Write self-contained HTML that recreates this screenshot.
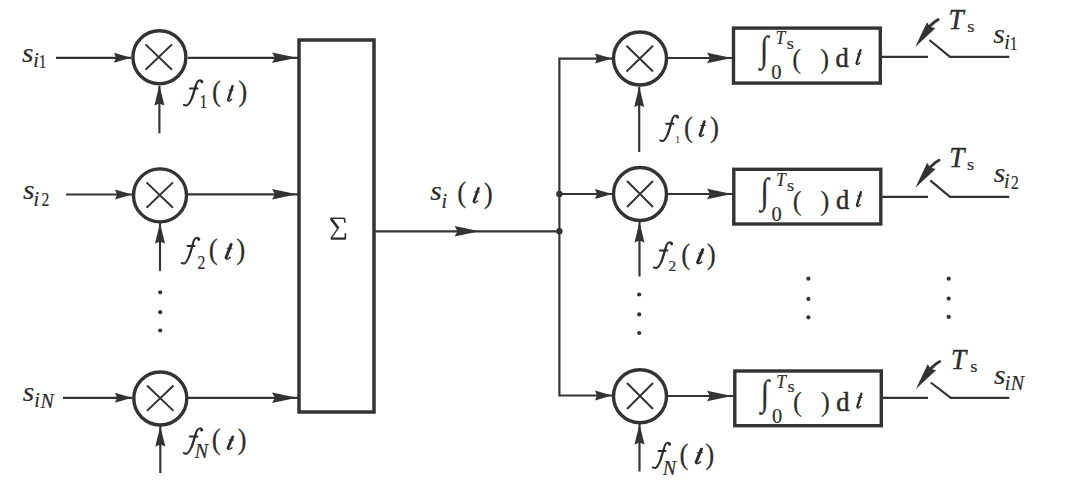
<!DOCTYPE html>
<html><head><meta charset="utf-8">
<style>
html,body{margin:0;padding:0;background:#fff;}
svg{display:block;}
text{font-family:"Liberation Serif",serif;fill:#2c2c2c;stroke:#2c2c2c;stroke-width:0.45px;}
.ns{stroke-width:0.15px;}
.sm{stroke-width:0.2px;}
.ls{stroke-width:0.15px;}
.bd{stroke-width:0.5px;}
.it{font-style:italic;}
</style></head>
<body>
<svg width="1069" height="486" viewBox="0 0 1069 486">
<g stroke="#333" fill="none">
  <g stroke-width="3.4">
    <circle cx="159.4" cy="57.3" r="26.5"/>
    <circle cx="160" cy="195.4" r="26.5"/>
    <circle cx="160.3" cy="398.5" r="26.5"/>
  </g>
  <g stroke-width="2.15">
    <path d="M56,57.8H131 M188,57.8H298"/>
    <path d="M66,194.5H132 M188,194.3H298"/>
    <path d="M63,397.8H132 M188,397.8H298"/>
    <path d="M159.4,133.3V86 M160,271V223 M160.3,473V426"/>
  </g>
  <g stroke-width="2">
    <path d="M145.5,44.4L172,69.8 M172,44.4L145.5,69.8"/>
    <path d="M146.5,182.4L173,207.8 M173,182.4L146.5,207.8"/>
    <path d="M147,385.5L173.5,410.9 M173.5,385.5L147,410.9"/>
  </g>
  <rect x="299" y="40" width="75" height="372" stroke-width="3.5"/>
  <path d="M374,231.3H559.4" stroke-width="2.15"/>
  <path d="M559.4,57.6V396.5 M559.4,58.6H612 M559.4,194H612 M559.4,395.5H612" stroke-width="2.15"/>
  <g stroke-width="3.4">
    <circle cx="640" cy="58.5" r="26.5"/>
    <circle cx="640" cy="194" r="26.5"/>
    <circle cx="640" cy="396.3" r="26.5"/>
  </g>
  <g stroke-width="2">
    <path d="M626.5,45.8L653,71.5 M653,45.8L626.5,71.5"/>
    <path d="M627,181L653,207 M653,181L627,207"/>
    <path d="M627,383L653,409 M653,383L627,409"/>
  </g>
  <g stroke-width="2.15">
    <path d="M668,58H733 M668,194H733 M668,396H733"/>
    <path d="M639.2,152V87 M639.5,276.5V222 M639.5,471.4V424"/>
  </g>
  <g stroke-width="3.4">
    <rect x="733.5" y="28.1" width="146.8" height="55"/>
    <rect x="733.8" y="169.3" width="147" height="54.7"/>
    <rect x="734.8" y="371" width="146.5" height="54.7"/>
  </g>
  <g stroke-width="2.15">
    <path d="M882,56.8H928 M929.4,40L950,56.8H1009.3"/>
    <path d="M882,196.8H928 M930.2,180.3L950,196.8H1009.3"/>
    <path d="M882,397.9H928 M930.7,382.5L950.8,397.9H1009.3"/>
  </g>
</g>
<g fill="#333">
  <path d="M0,0 L-17,-5 L-15,0 L-17,5 Z" transform="translate(131,57.8)"/>
  <path d="M0,0 L-17,-5 L-15,0 L-17,5 Z" transform="translate(132,194.5)"/>
  <path d="M0,0 L-17,-5 L-15,0 L-17,5 Z" transform="translate(132,397.8)"/>
  <path d="M0,0 L-25,-5.2 L-22,0 L-25,5.2 Z" transform="translate(297,57.8)"/>
  <path d="M0,0 L-25,-5.2 L-22,0 L-25,5.2 Z" transform="translate(297,194.3)"/>
  <path d="M0,0 L-25,-5.2 L-22,0 L-25,5.2 Z" transform="translate(297,397.8)"/>
  <path d="M0,0 L-20.5,-5 L-18.5,0 L-20.5,5 Z" transform="translate(159.4,85) rotate(-90)"/>
  <path d="M0,0 L-20.5,-5 L-18.5,0 L-20.5,5 Z" transform="translate(160,223) rotate(-90)"/>
  <path d="M0,0 L-20.5,-5 L-18.5,0 L-20.5,5 Z" transform="translate(160.3,426) rotate(-90)"/>
  <path d="M0,0 L-25,-5.2 L-22,0 L-25,5.2 Z" transform="translate(479.6,231.3)"/>
  <path d="M0,0 L-17,-5 L-15,0 L-17,5 Z" transform="translate(612,58.6)"/>
  <path d="M0,0 L-17,-5 L-15,0 L-17,5 Z" transform="translate(612,194)"/>
  <path d="M0,0 L-17,-5 L-15,0 L-17,5 Z" transform="translate(612,395.5)"/>
  <path d="M0,0 L-25,-5.2 L-22,0 L-25,5.2 Z" transform="translate(732,58)"/>
  <path d="M0,0 L-25,-5.2 L-22,0 L-25,5.2 Z" transform="translate(732,194)"/>
  <path d="M0,0 L-25,-5.2 L-22,0 L-25,5.2 Z" transform="translate(732,396)"/>
  <path d="M0,0 L-20.5,-5 L-18.5,0 L-20.5,5 Z" transform="translate(639.2,86.5) rotate(-90)"/>
  <path d="M0,0 L-20.5,-5 L-18.5,0 L-20.5,5 Z" transform="translate(639.5,222) rotate(-90)"/>
  <path d="M0,0 L-20.5,-5 L-18.5,0 L-20.5,5 Z" transform="translate(639.5,424) rotate(-90)"/>
  <path d="M0,0 L-27,-5.2 L-25,0 L-27,5.2 Z" transform="translate(915.2,47) rotate(126.3)"/>
  <path d="M0,0 L-27,-5.2 L-25,0 L-27,5.2 Z" transform="translate(915.4,187.7) rotate(126.3)"/>
  <path d="M0,0 L-27,-5.2 L-25,0 L-27,5.2 Z" transform="translate(915.9,389) rotate(126.3)"/>
  <circle cx="559.4" cy="194" r="3.2"/>
  <circle cx="559.4" cy="231.3" r="3.2"/>
  <circle cx="160.2" cy="292.3" r="2.1"/><circle cx="160.2" cy="312.2" r="2.1"/><circle cx="160.2" cy="330.5" r="2.1"/>
  <circle cx="639.2" cy="294.5" r="2.1"/><circle cx="639.2" cy="314.4" r="2.1"/><circle cx="639.2" cy="333" r="2.1"/>
  <circle cx="808.4" cy="278.7" r="2.1"/><circle cx="808.4" cy="298.9" r="2.1"/><circle cx="808.4" cy="317.3" r="2.1"/>
  <circle cx="948.7" cy="278.7" r="2.1"/><circle cx="948.7" cy="298.6" r="2.1"/><circle cx="948.7" cy="316.9" r="2.1"/>
</g>
<g stroke="#333" stroke-width="2.8" fill="none" stroke-linecap="round">
  <path d="M938.3,19.6 Q934.5,21.5 929.5,26.5"/>
  <path d="M939.1,160.2 Q935.3,162.1 930.3,167.2"/>
  <path d="M939.8,361.6 Q936,363.5 931,368.6"/>
</g>

<g transform="translate(183.00,79.30) scale(1.000,1.000)"><path d="M19.3,2.6 C18.8,0.2 15.6,0.2 14,3.2 C12.1,7 10.2,15.6 7.8,21.2 C5.6,26.2 3.2,27 0.9,25.6 M7,9.1 H14.6" fill="none" stroke="#2c2c2c" stroke-width="2.0" stroke-linecap="round"/><path d="M13.4,5.6 C12,10 10.6,15.6 8.9,19.6" fill="none" stroke="#2c2c2c" stroke-width="1.6" stroke-linecap="round"/><circle cx="18.8" cy="2.4" r="1.5" fill="#2c2c2c"/></g>
<g transform="translate(226.50,85.30) scale(1.000,1.000)" fill="none" stroke="#2c2c2c" stroke-linecap="round"><path d="M6.0,0.8 L1.7,14.4" stroke-width="2.5"/><path d="M1.7,14.4 Q1.3,16.6 3.4,15.5 L5.2,14.0" stroke-width="1.4"/><path d="M2.4,4.7 H6.8" stroke-width="1.0"/></g>
<g transform="translate(180.80,236.80) scale(0.950,1.022)"><path d="M19.3,2.6 C18.8,0.2 15.6,0.2 14,3.2 C12.1,7 10.2,15.6 7.8,21.2 C5.6,26.2 3.2,27 0.9,25.6 M7,9.1 H14.6" fill="none" stroke="#2c2c2c" stroke-width="2.0" stroke-linecap="round"/><path d="M13.4,5.6 C12,10 10.6,15.6 8.9,19.6" fill="none" stroke="#2c2c2c" stroke-width="1.6" stroke-linecap="round"/><circle cx="18.8" cy="2.4" r="1.5" fill="#2c2c2c"/></g>
<g transform="translate(224.00,243.50) scale(1.185,0.988)" fill="none" stroke="#2c2c2c" stroke-linecap="round"><path d="M6.0,0.8 L1.7,14.4" stroke-width="2.5"/><path d="M1.7,14.4 Q1.3,16.6 3.4,15.5 L5.2,14.0" stroke-width="1.4"/><path d="M2.4,4.7 H6.8" stroke-width="1.0"/></g>
<g transform="translate(183.00,427.50) scale(0.990,1.000)"><path d="M19.3,2.6 C18.8,0.2 15.6,0.2 14,3.2 C12.1,7 10.2,15.6 7.8,21.2 C5.6,26.2 3.2,27 0.9,25.6 M7,9.1 H14.6" fill="none" stroke="#2c2c2c" stroke-width="2.0" stroke-linecap="round"/><path d="M13.4,5.6 C12,10 10.6,15.6 8.9,19.6" fill="none" stroke="#2c2c2c" stroke-width="1.6" stroke-linecap="round"/><circle cx="18.8" cy="2.4" r="1.5" fill="#2c2c2c"/></g>
<g transform="translate(226.00,436.00) scale(1.138,0.844)" fill="none" stroke="#2c2c2c" stroke-linecap="round"><path d="M6.0,0.8 L1.7,14.4" stroke-width="2.5"/><path d="M1.7,14.4 Q1.3,16.6 3.4,15.5 L5.2,14.0" stroke-width="1.4"/><path d="M2.4,4.7 H6.8" stroke-width="1.0"/></g>
<g stroke="#2c2c2c" fill="none" stroke-linecap="butt"><path d="M330.4,218.3 H344.6" stroke-width="1.5"/><path d="M344.4,218.2 L345,222.6" stroke-width="1.7"/><path d="M330.9,218.5 L338.3,228.2" stroke-width="2.7"/><path d="M338.5,227.6 L331.2,238.2" stroke-width="1.4"/><path d="M330.8,238.6 H345.8" stroke-width="2.3"/><path d="M345.2,239 L345.5,233.2" stroke-width="1.7"/></g>
<g transform="translate(472.00,187.50) scale(1.077,0.970)" fill="none" stroke="#2c2c2c" stroke-linecap="round"><path d="M6.0,0.8 L1.7,14.4" stroke-width="2.5"/><path d="M1.7,14.4 Q1.3,16.6 3.4,15.5 L5.2,14.0" stroke-width="1.4"/><path d="M2.4,4.7 H6.8" stroke-width="1.0"/></g>
<g transform="translate(659.30,114.70) scale(0.970,1.004)"><path d="M19.3,2.6 C18.8,0.2 15.6,0.2 14,3.2 C12.1,7 10.2,15.6 7.8,21.2 C5.6,26.2 3.2,27 0.9,25.6 M7,9.1 H14.6" fill="none" stroke="#2c2c2c" stroke-width="2.0" stroke-linecap="round"/><path d="M13.4,5.6 C12,10 10.6,15.6 8.9,19.6" fill="none" stroke="#2c2c2c" stroke-width="1.6" stroke-linecap="round"/><circle cx="18.8" cy="2.4" r="1.5" fill="#2c2c2c"/></g>
<g transform="translate(698.10,120.70) scale(1.062,1.000)" fill="none" stroke="#2c2c2c" stroke-linecap="round"><path d="M6.0,0.8 L1.7,14.4" stroke-width="2.5"/><path d="M1.7,14.4 Q1.3,16.6 3.4,15.5 L5.2,14.0" stroke-width="1.4"/><path d="M2.4,4.7 H6.8" stroke-width="1.0"/></g>
<g transform="translate(653.00,241.30) scale(0.990,1.022)"><path d="M19.3,2.6 C18.8,0.2 15.6,0.2 14,3.2 C12.1,7 10.2,15.6 7.8,21.2 C5.6,26.2 3.2,27 0.9,25.6 M7,9.1 H14.6" fill="none" stroke="#2c2c2c" stroke-width="2.0" stroke-linecap="round"/><path d="M13.4,5.6 C12,10 10.6,15.6 8.9,19.6" fill="none" stroke="#2c2c2c" stroke-width="1.6" stroke-linecap="round"/><circle cx="18.8" cy="2.4" r="1.5" fill="#2c2c2c"/></g>
<g transform="translate(695.50,248.70) scale(1.215,0.946)" fill="none" stroke="#2c2c2c" stroke-linecap="round"><path d="M6.0,0.8 L1.7,14.4" stroke-width="2.5"/><path d="M1.7,14.4 Q1.3,16.6 3.4,15.5 L5.2,14.0" stroke-width="1.4"/><path d="M2.4,4.7 H6.8" stroke-width="1.0"/></g>
<g transform="translate(651.90,441.90) scale(0.940,0.996)"><path d="M19.3,2.6 C18.8,0.2 15.6,0.2 14,3.2 C12.1,7 10.2,15.6 7.8,21.2 C5.6,26.2 3.2,27 0.9,25.6 M7,9.1 H14.6" fill="none" stroke="#2c2c2c" stroke-width="2.0" stroke-linecap="round"/><path d="M13.4,5.6 C12,10 10.6,15.6 8.9,19.6" fill="none" stroke="#2c2c2c" stroke-width="1.6" stroke-linecap="round"/><circle cx="18.8" cy="2.4" r="1.5" fill="#2c2c2c"/></g>
<g transform="translate(694.00,448.20) scale(1.246,0.976)" fill="none" stroke="#2c2c2c" stroke-linecap="round"><path d="M6.0,0.8 L1.7,14.4" stroke-width="2.5"/><path d="M1.7,14.4 Q1.3,16.6 3.4,15.5 L5.2,14.0" stroke-width="1.4"/><path d="M2.4,4.7 H6.8" stroke-width="1.0"/></g>
<g transform="translate(855.00,49.40) scale(0.923,0.958)" fill="none" stroke="#2c2c2c" stroke-linecap="round"><path d="M6.0,0.8 L1.7,14.4" stroke-width="2.5"/><path d="M1.7,14.4 Q1.3,16.6 3.4,15.5 L5.2,14.0" stroke-width="1.4"/><path d="M2.4,4.7 H6.8" stroke-width="1.0"/></g>
<g transform="translate(855.40,191.40) scale(0.923,0.958)" fill="none" stroke="#2c2c2c" stroke-linecap="round"><path d="M6.0,0.8 L1.7,14.4" stroke-width="2.5"/><path d="M1.7,14.4 Q1.3,16.6 3.4,15.5 L5.2,14.0" stroke-width="1.4"/><path d="M2.4,4.7 H6.8" stroke-width="1.0"/></g>
<g transform="translate(855.80,392.90) scale(0.923,0.958)" fill="none" stroke="#2c2c2c" stroke-linecap="round"><path d="M6.0,0.8 L1.7,14.4" stroke-width="2.5"/><path d="M1.7,14.4 Q1.3,16.6 3.4,15.5 L5.2,14.0" stroke-width="1.4"/><path d="M2.4,4.7 H6.8" stroke-width="1.0"/></g>
<text class="it ls" font-size="26.50" transform="translate(22.09,61.64) scale(1.120,1)">s</text>
<text class="it sm" font-size="20.00" transform="translate(33.37,67.30) scale(1.000,1)">i</text>
<text class="rm sm" font-size="19.50" transform="translate(38.83,68.10) scale(0.800,1)">1</text>
<text class="it ls" font-size="26.50" transform="translate(23.04,199.04) scale(1.120,1)">s</text>
<text class="it sm" font-size="20.00" transform="translate(33.52,205.80) scale(1.000,1)">i</text>
<text class="rm sm" font-size="19.50" transform="translate(41.39,205.80) scale(0.800,1)">2</text>
<text class="it ls" font-size="26.50" transform="translate(22.64,401.14) scale(1.120,1)">s</text>
<text class="it sm" font-size="20.00" transform="translate(34.22,407.10) scale(1.000,1)">i</text>
<text class="it sm" font-size="20.00" transform="translate(40.44,407.90) scale(1.000,1)">N</text>
<text class="rm sm" font-size="19.50" transform="translate(199.43,108.00) scale(0.800,1)">1</text>
<text class="rm ns" font-size="28.50" transform="translate(212.08,101.03) scale(0.950,1)">(</text>
<text class="rm ns" font-size="28.50" transform="translate(238.35,101.03) scale(0.950,1)">)</text>
<text class="rm sm" font-size="19.50" transform="translate(197.59,268.80) scale(0.800,1)">2</text>
<text class="rm ns" font-size="28.50" transform="translate(208.78,258.63) scale(0.950,1)">(</text>
<text class="rm ns" font-size="28.50" transform="translate(236.15,258.63) scale(0.950,1)">)</text>
<text class="it sm" font-size="20.00" transform="translate(194.64,458.20) scale(1.000,1)">N</text>
<text class="rm ns" font-size="28.50" transform="translate(211.78,449.33) scale(0.950,1)">(</text>
<text class="rm ns" font-size="28.50" transform="translate(237.60,449.33) scale(0.950,1)">)</text>
<text class="it ls" font-size="26.50" transform="translate(430.19,200.24) scale(1.120,1)">s</text>
<text class="it sm" font-size="20.00" transform="translate(441.47,207.50) scale(1.000,1)">i</text>
<text class="rm ns" font-size="28.50" transform="translate(457.18,202.33) scale(0.950,1)">(</text>
<text class="rm ns" font-size="28.50" transform="translate(483.65,202.53) scale(0.950,1)">)</text>
<text class="rm sm" font-size="11.00" transform="translate(675.72,143.00) scale(0.700,1)">1</text>
<text class="rm ns" font-size="28.50" transform="translate(683.98,136.53) scale(0.950,1)">(</text>
<text class="rm ns" font-size="28.50" transform="translate(709.95,136.53) scale(0.950,1)">)</text>
<text class="rm sm" font-size="15.50" transform="translate(668.46,270.90) scale(1.000,1)">2</text>
<text class="rm ns" font-size="28.50" transform="translate(681.18,263.73) scale(0.950,1)">(</text>
<text class="rm ns" font-size="28.50" transform="translate(706.70,263.73) scale(0.950,1)">)</text>
<text class="it sm" font-size="20.00" transform="translate(662.74,475.40) scale(1.000,1)">N</text>
<text class="rm ns" font-size="28.50" transform="translate(679.58,463.73) scale(0.950,1)">(</text>
<text class="rm ns" font-size="28.50" transform="translate(705.25,463.73) scale(0.950,1)">)</text>
<text class="rm ns" font-size="36.00" transform="translate(760.03,61.35) scale(0.860,1)">∫</text>
<text class="it sm" font-size="19.50" transform="translate(775.48,44.00) scale(0.900,1)">T</text>
<text class="rm sm" font-size="17.00" transform="translate(786.63,48.93) scale(1.080,1)">s</text>
<text class="rm ns" font-size="20.50" transform="translate(771.17,79.00) scale(1.000,1)">0</text>
<text class="rm ns" font-size="26.50" transform="translate(792.23,67.56) scale(1.000,1)">(</text>
<text class="rm ns" font-size="26.50" transform="translate(820.14,67.76) scale(1.000,1)">)</text>
<text class="rm bd" font-size="26.50" transform="translate(835.56,67.34) scale(1.000,1)">d</text>
<text class="rm ns" font-size="36.00" transform="translate(760.43,203.35) scale(0.860,1)">∫</text>
<text class="it sm" font-size="19.50" transform="translate(775.88,186.00) scale(0.900,1)">T</text>
<text class="rm sm" font-size="17.00" transform="translate(787.03,190.93) scale(1.080,1)">s</text>
<text class="rm ns" font-size="20.50" transform="translate(771.58,221.00) scale(1.000,1)">0</text>
<text class="rm ns" font-size="26.50" transform="translate(792.63,209.56) scale(1.000,1)">(</text>
<text class="rm ns" font-size="26.50" transform="translate(820.54,209.76) scale(1.000,1)">)</text>
<text class="rm bd" font-size="26.50" transform="translate(835.96,209.34) scale(1.000,1)">d</text>
<text class="rm ns" font-size="36.00" transform="translate(760.83,404.85) scale(0.860,1)">∫</text>
<text class="it sm" font-size="19.50" transform="translate(776.28,387.50) scale(0.900,1)">T</text>
<text class="rm sm" font-size="17.00" transform="translate(787.43,392.43) scale(1.080,1)">s</text>
<text class="rm ns" font-size="20.50" transform="translate(771.97,422.50) scale(1.000,1)">0</text>
<text class="rm ns" font-size="26.50" transform="translate(793.03,411.06) scale(1.000,1)">(</text>
<text class="rm ns" font-size="26.50" transform="translate(820.94,411.26) scale(1.000,1)">)</text>
<text class="rm bd" font-size="26.50" transform="translate(836.36,410.84) scale(1.000,1)">d</text>
<text class="it" font-size="29.50" transform="translate(948.56,29.20) scale(0.920,1)">T</text>
<text class="rm sm" font-size="17.50" transform="translate(967.33,32.33) scale(1.050,1)">s</text>
<text class="it" font-size="29.50" transform="translate(949.36,166.80) scale(0.920,1)">T</text>
<text class="rm sm" font-size="17.50" transform="translate(966.88,169.93) scale(1.050,1)">s</text>
<text class="it" font-size="29.50" transform="translate(950.96,369.20) scale(0.920,1)">T</text>
<text class="rm sm" font-size="17.50" transform="translate(970.18,372.33) scale(1.050,1)">s</text>
<text class="it ls" font-size="26.50" transform="translate(993.24,42.74) scale(1.120,1)">s</text>
<text class="it sm" font-size="20.00" transform="translate(1004.17,49.20) scale(1.000,1)">i</text>
<text class="rm sm" font-size="19.50" transform="translate(1009.68,50.00) scale(0.800,1)">1</text>
<text class="it ls" font-size="26.50" transform="translate(993.84,181.94) scale(1.120,1)">s</text>
<text class="it sm" font-size="20.00" transform="translate(1003.92,188.40) scale(1.000,1)">i</text>
<text class="rm sm" font-size="19.50" transform="translate(1010.99,188.80) scale(0.800,1)">2</text>
<text class="it ls" font-size="26.50" transform="translate(994.04,384.04) scale(1.120,1)">s</text>
<text class="it sm" font-size="20.00" transform="translate(1004.82,390.00) scale(1.000,1)">i</text>
<text class="it sm" font-size="20.00" transform="translate(1010.84,390.40) scale(1.000,1)">N</text>
</svg>
</body></html>
